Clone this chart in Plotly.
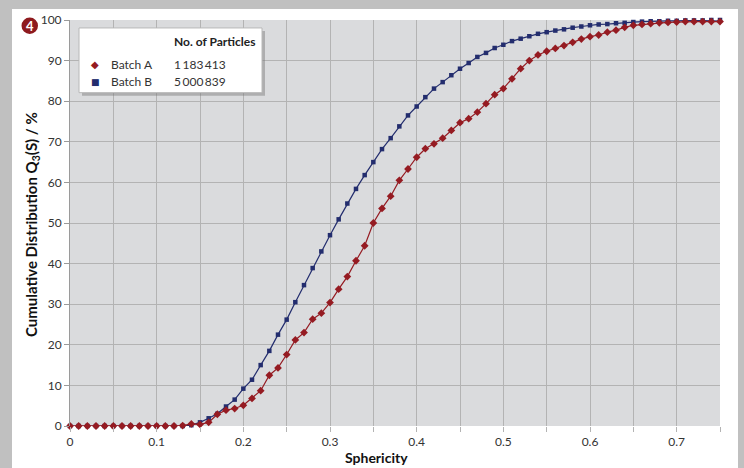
import plotly.graph_objects as go

# ---- data ----
sphericity = [round(i * 0.01, 2) for i in range(76)]

batch_a = [0]*13 + [
    0.1, 0.5, 0.4, 0.9, 2.9, 3.9, 4.3, 5.1, 6.8, 8.7,
    12.5, 14.3, 17.6, 21.2, 23.0, 26.3, 27.8, 30.4, 33.7, 36.8,
    40.7, 44.4, 50.0, 53.6, 56.6, 60.5, 63.3, 66.2, 68.3, 69.5,
    70.9, 72.8, 74.7, 75.7, 77.3, 79.4, 81.6, 83.1, 85.5, 88.0,
    90.0, 91.4, 92.3, 93.0, 93.7, 94.5, 95.3, 95.9, 96.3, 97.0,
    97.5, 98.2, 98.7, 98.9, 99.1, 99.3, 99.4, 99.5, 99.6, 99.6,
    99.6, 99.6, 99.6]

batch_b = [0]*14 + [
    0.2, 0.9, 1.9, 3.0, 4.8, 6.5, 9.2, 11.4, 15.0, 18.5,
    22.5, 26.2, 30.5, 34.7, 38.9, 43.0, 47.0, 50.9, 54.8, 58.4,
    61.8, 65.0, 68.2, 70.9, 73.8, 76.5, 78.7, 81.0, 83.1, 84.7,
    86.4, 88.0, 89.4, 90.9, 91.9, 93.1, 93.9, 94.8, 95.4, 96.0,
    96.6, 97.0, 97.4, 97.7, 98.1, 98.4, 98.7, 98.9, 99.0, 99.2,
    99.3, 99.5, 99.6, 99.7, 99.7, 99.8, 99.8, 99.9, 99.9, 99.9,
    100, 100]

series_names = ["Batch A", "Batch B"]
particle_counts = ["1\u2009183\u2009413", "5\u2009000\u2009839"]

x_tickvals = [round(i * 0.05, 2) for i in range(16)]
x_ticktext = ["0", "", "0.1", "", "0.2", "", "0.3", "", "0.4", "", "0.5", "", "0.6", "", "0.7", ""]
y_tickvals = list(range(0, 101, 10))

RED = "#951b22"
BLUE = "#232d6e"
FONT = "Lato"

fig = go.Figure()
fig.add_trace(go.Scatter(
    x=sphericity, y=batch_b, mode="lines+markers", name=series_names[1],
    line=dict(color=BLUE, width=1.2),
    marker=dict(symbol="square", size=4.5, color=BLUE),
    showlegend=False, cliponaxis=False))
fig.add_trace(go.Scatter(
    x=sphericity, y=batch_a, mode="lines+markers", name=series_names[0],
    line=dict(color=RED, width=1.2),
    marker=dict(symbol="diamond", size=6, color=RED),
    showlegend=False, cliponaxis=False))

W, H = 744, 468
L, R, T, B = 70, 24, 18, 42
pw, ph = W - L - R, H - T - B

def px(x):
    return (x - L) / pw

def py(y):
    return (H - B - y) / ph

shapes = [
    dict(type="rect", xref="paper", yref="paper", x0=px(12), x1=px(738), y0=py(7), y1=py(480),
         fillcolor="white", line=dict(width=0), layer="below"),
    dict(type="rect", xref="paper", yref="paper", x0=0, x1=1, y0=0, y1=1,
         fillcolor="#dadbdd", line=dict(width=0), layer="below"),
    dict(type="rect", xref="paper", yref="paper", x0=px(82), x1=px(265), y0=py(94), y1=py(29),
         fillcolor="rgba(120,120,120,0.45)", line=dict(width=0), layer="above"),
    dict(type="rect", xref="paper", yref="paper", x0=px(79), x1=px(262), y0=py(91), y1=py(26),
         fillcolor="white", line=dict(color="#b8b8b8", width=1), layer="above"),
    dict(type="circle", xref="paper", yref="paper", x0=px(21.5), x1=px(38), y0=py(32), y1=py(15.5),
         fillcolor="#8e1a1e", line=dict(width=0), layer="above"),
]

annotations = [
    dict(text="<b>4</b>", x=px(29.8), y=py(23.8), xref="paper", yref="paper", showarrow=False,
         font=dict(family=FONT, size=13, color="white"), xanchor="center", yanchor="middle"),
    dict(text="<b>No. of Particles</b>", x=px(172), y=py(40), xref="paper", yref="paper",
         showarrow=False, font=dict(family=FONT, size=12, color="#222"), xanchor="left", yanchor="middle"),
    dict(text="\u25c6", x=px(95), y=py(62.5), xref="paper", yref="paper", showarrow=False,
         font=dict(family="DejaVu Sans", size=10, color=RED), xanchor="center", yanchor="middle"),
    dict(text="\u25a0", x=px(95), y=py(80), xref="paper", yref="paper", showarrow=False,
         font=dict(family="DejaVu Sans", size=9, color=BLUE), xanchor="center", yanchor="middle"),
    dict(text=series_names[0], x=px(109), y=py(63), xref="paper", yref="paper", showarrow=False,
         font=dict(family=FONT, size=12, color="#333"), xanchor="left", yanchor="middle"),
    dict(text=series_names[1], x=px(109), y=py(80), xref="paper", yref="paper", showarrow=False,
         font=dict(family=FONT, size=12, color="#333"), xanchor="left", yanchor="middle"),
    dict(text=particle_counts[0], x=px(172), y=py(63), xref="paper", yref="paper", showarrow=False,
         font=dict(family=FONT, size=12, color="#333"), xanchor="left", yanchor="middle"),
    dict(text=particle_counts[1], x=px(172), y=py(80), xref="paper", yref="paper", showarrow=False,
         font=dict(family=FONT, size=12, color="#333"), xanchor="left", yanchor="middle"),
    dict(text="<b>Sphericity</b>", x=px(376), y=py(458), xref="paper", yref="paper", showarrow=False,
         font=dict(family=FONT, size=14, color="#111"), xanchor="center", yanchor="middle"),
    dict(text="<b>Cumulative Distribution Q<sub>3</sub>(S) / %</b>", x=px(32), y=py(224),
         xref="paper", yref="paper", showarrow=False, textangle=-90,
         font=dict(family=FONT, size=15, color="#111"), xanchor="center", yanchor="middle"),
]

fig.update_layout(
    width=W, height=H,
    margin=dict(l=L, r=R, t=T, b=B, pad=0),
    paper_bgcolor="#c0c0c0",
    plot_bgcolor="rgba(0,0,0,0)",
    shapes=shapes,
    annotations=annotations,
    font=dict(family=FONT, size=12, color="#333"),
    xaxis=dict(range=[0, 0.75], tickvals=x_tickvals, ticktext=x_ticktext,
               showgrid=True, gridcolor="#b3b3b3", gridwidth=1.3,
               ticks="outside", ticklen=5, tickcolor="#b3b3b3", zeroline=False,
               showline=False, tickfont=dict(family=FONT, size=12, color="#333")),
    yaxis=dict(range=[0, 100], tickvals=y_tickvals,
               showgrid=True, gridcolor="#b3b3b3", gridwidth=1.3,
               ticks="outside", ticklen=5, tickcolor="#9a9a9a", zeroline=False,
               showline=True, linecolor="#9a9a9a", linewidth=1,
               tickfont=dict(family=FONT, size=12, color="#333")),
)

fig.write_html("out.html", config={"displayModeBar": False},
               post_script="document.body.style.margin='0';document.body.style.background='#c0c0c0';")
